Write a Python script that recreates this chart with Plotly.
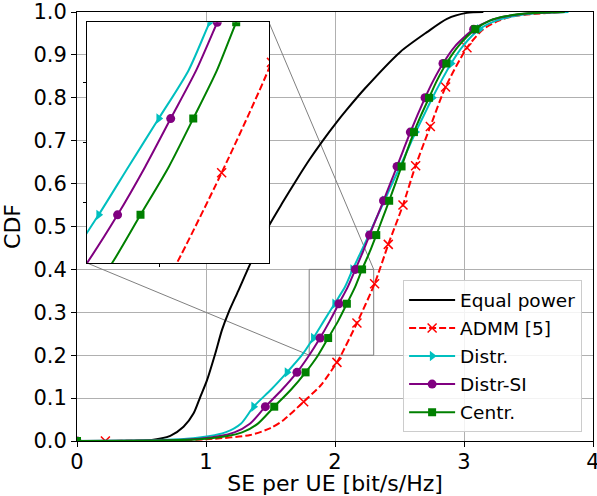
import plotly.graph_objects as go

# ---------------- data ----------------
CDF_LEVELS = [0, 0.005, 0.02, 0.04, 0.08, 0.12, 0.16, 0.20, 0.24, 0.28, 0.32, 0.36,
              0.40, 0.44, 0.48, 0.52, 0.56, 0.60, 0.64, 0.68, 0.72, 0.76, 0.80, 0.84,
              0.88, 0.92, 0.96, 0.98, 0.99, 0.997, 1.0]
SE_DISTR = [0.0, 0.85, 1.15, 1.27, 1.369, 1.505, 1.628, 1.743, 1.832, 1.914, 1.997, 2.079,
            2.137, 2.200, 2.262, 2.322, 2.383, 2.443, 2.505, 2.565, 2.625, 2.690, 2.755, 2.825,
            2.900, 2.990, 3.120, 3.250, 3.380, 3.550, 3.810]
SE_DISTR_SI = [0.0, 0.95, 1.22, 1.34, 1.460, 1.590, 1.705, 1.800, 1.884, 1.960, 2.030, 2.100,
               2.158, 2.215, 2.268, 2.322, 2.376, 2.428, 2.481, 2.532, 2.584, 2.640, 2.698, 2.762,
               2.837, 2.930, 3.075, 3.200, 3.330, 3.500, 3.780]
SE_CENTR = [0.0, 1.00, 1.28, 1.40, 1.529, 1.660, 1.772, 1.869, 1.947, 2.025, 2.092, 2.157,
            2.210, 2.268, 2.320, 2.370, 2.420, 2.468, 2.516, 2.563, 2.612, 2.668, 2.729, 2.790,
            2.863, 2.955, 3.088, 3.200, 3.320, 3.500, 3.780]
MARKER_LEVELS = [0, 0.08, 0.16, 0.24, 0.32, 0.40, 0.48, 0.56, 0.64, 0.72, 0.80, 0.88, 0.96]

ADMM_LEVELS = [0, 0.002, 0.005, 0.014, 0.03, 0.049, 0.0917, 0.13, 0.1833, 0.2, 0.275,
               0.3667, 0.4583, 0.55, 0.6417, 0.7333, 0.825, 0.9167, 0.96, 0.98, 0.99, 1.0]
SE_ADMM = [0.22, 0.80, 1.05, 1.343, 1.50, 1.602, 1.757, 1.890, 2.015, 2.047, 2.170,
           2.307, 2.413, 2.527, 2.625, 2.739, 2.857, 3.023, 3.150, 3.270, 3.380, 3.750]
ADMM_MARKER_LEVELS = [0, 0.0917, 0.1833, 0.275, 0.3667, 0.4583, 0.55, 0.6417, 0.7333,
                      0.825, 0.9167]

EP_LEVELS = [0, 0.002, 0.012, 0.033, 0.0645, 0.103, 0.142, 0.204, 0.259, 0.30, 0.35,
             0.413, 0.46, 0.503, 0.554, 0.608, 0.655, 0.698, 0.744, 0.770, 0.821,
             0.907, 0.953, 0.984, 0.998, 1.0]
SE_EP = [0.30, 0.568, 0.723, 0.826, 0.904, 0.956, 1.008, 1.072, 1.124, 1.175, 1.250,
         1.343, 1.420, 1.490, 1.590, 1.700, 1.800, 1.900, 2.015, 2.085, 2.230,
         2.506, 2.713, 2.868, 3.023, 3.150]

X_TICKS = [0, 1, 2, 3, 4]
Y_TICKS = [round(0.1 * i, 1) for i in range(11)]

ZOOM_X = [1.8, 2.3]
ZOOM_Y = [0.2, 0.4]
INSET_DOM_X = [0.0194, 0.372]
INSET_DOM_Y = [0.415, 0.976]

FONT = "DejaVu Sans"
GRID = "#b0b0b0"

fig = go.Figure()


def pick(levels, xs, mlevels):
    mx, my = [], []
    for lv, xv in zip(levels, xs):
        if any(abs(lv - m) < 1e-6 for m in mlevels):
            mx.append(xv)
            my.append(lv)
    return mx, my


def add_curve(xs, levels, name, color, symbol=None, dash="solid", mlevels=None,
              msize=8, mline=None):
    mx, my = (pick(levels, xs, mlevels) if mlevels else ([], []))
    for xa, ya in (("x", "y"), ("x2", "y2")):
        fig.add_trace(go.Scatter(x=xs, y=levels, mode="lines", xaxis=xa, yaxis=ya,
                                 line=dict(color=color, width=2, dash=dash,
                                           shape="spline", smoothing=0.7),
                                 showlegend=False, hoverinfo="skip"))
        if symbol:
            fig.add_trace(go.Scatter(x=mx, y=my, mode="markers", xaxis=xa, yaxis=ya,
                                     marker=dict(symbol=symbol, size=msize, color=color,
                                                 line=mline or dict(width=0)),
                                     showlegend=False, hoverinfo="skip"))
    # legend entry
    fig.add_trace(go.Scatter(x=[None], y=[None], mode="lines+markers" if symbol else "lines",
                             name=name, line=dict(color=color, width=2, dash=dash),
                             marker=dict(symbol=symbol or "circle", size=msize, color=color,
                                         line=mline or dict(width=0)),
                             legendgroup=name))


add_curve(SE_EP, EP_LEVELS, "Equal power", "black")
add_curve(SE_ADMM, ADMM_LEVELS, "ADMM [5]", "#ff0000", "x-thin", "7px,3px",
          ADMM_MARKER_LEVELS, msize=9, mline=dict(color="#ff0000", width=1.5))
add_curve(SE_DISTR, CDF_LEVELS, "Distr.", "#00bfbf", "triangle-right", "solid",
          MARKER_LEVELS, msize=9)
add_curve(SE_DISTR_SI, CDF_LEVELS, "Distr-SI", "#800080", "circle", "solid",
          MARKER_LEVELS, msize=9)
add_curve(SE_CENTR, CDF_LEVELS, "Centr.", "#008000", "square", "solid",
          MARKER_LEVELS, msize=8)

# zoom rectangle and connector lines
gray = "#808080"
fig.add_shape(type="rect", xref="x", yref="y", x0=ZOOM_X[0], x1=ZOOM_X[1],
              y0=ZOOM_Y[0], y1=ZOOM_Y[1], line=dict(color=gray, width=1), layer="between")
xr = X_TICKS[-1] - X_TICKS[0]
fig.add_shape(type="line", xref="x", yref="y", x0=INSET_DOM_X[0] * xr, y0=INSET_DOM_Y[0],
              x1=ZOOM_X[0], y1=ZOOM_Y[0], line=dict(color=gray, width=1), layer="between")
fig.add_shape(type="line", xref="x", yref="y", x0=INSET_DOM_X[1] * xr, y0=INSET_DOM_Y[1],
              x1=ZOOM_X[1], y1=ZOOM_Y[1], line=dict(color=gray, width=1), layer="between")

axis_common = dict(showline=True, linecolor="black", linewidth=1, mirror=True,
                   zeroline=False, tickcolor="black", ticks="outside", automargin=False)

fig.update_layout(
    width=597, height=496,
    margin=dict(l=77, r=4, t=12, b=55),
    paper_bgcolor="white", plot_bgcolor="white",
    font=dict(family=FONT, color="black", size=21),
    xaxis=dict(domain=[0, 1], range=[X_TICKS[0], X_TICKS[-1]], tickvals=X_TICKS,
               showgrid=True, gridcolor=GRID, gridwidth=1, ticklen=5,
               tickfont=dict(size=21), ticklabeloverflow="allow", ticklabelstandoff=-3,
               title=dict(text="SE per UE [bit/s/Hz]", font=dict(size=22), standoff=0),
               **axis_common),
    yaxis=dict(domain=[0, 1], range=[0, 1], tickvals=Y_TICKS, tickformat=".1f",
               showgrid=True, gridcolor=GRID, gridwidth=1, ticklen=5,
               tickfont=dict(size=21), ticklabeloverflow="allow",
               title=dict(text="CDF", font=dict(size=22), standoff=6),
               **axis_common),
    xaxis2=dict(domain=INSET_DOM_X, anchor="y2", range=ZOOM_X, tickvals=[2.0],
                showticklabels=False, showgrid=False, ticklen=3, **axis_common),
    yaxis2=dict(domain=INSET_DOM_Y, anchor="x2", range=ZOOM_Y, tickvals=[0.25, 0.3, 0.35],
                showticklabels=False, showgrid=False, ticklen=3, **axis_common),
    legend=dict(x=0.632, xanchor="left", y=0.02, yanchor="bottom",
                bgcolor="rgba(255,255,255,0.85)", bordercolor="#cccccc", borderwidth=1,
                font=dict(size=18.5), tracegroupgap=1, itemwidth=46),
    showlegend=True,
)

fig.write_html("out.html", config={"displayModeBar": False},
               post_script="document.body.style.margin='0px';")
